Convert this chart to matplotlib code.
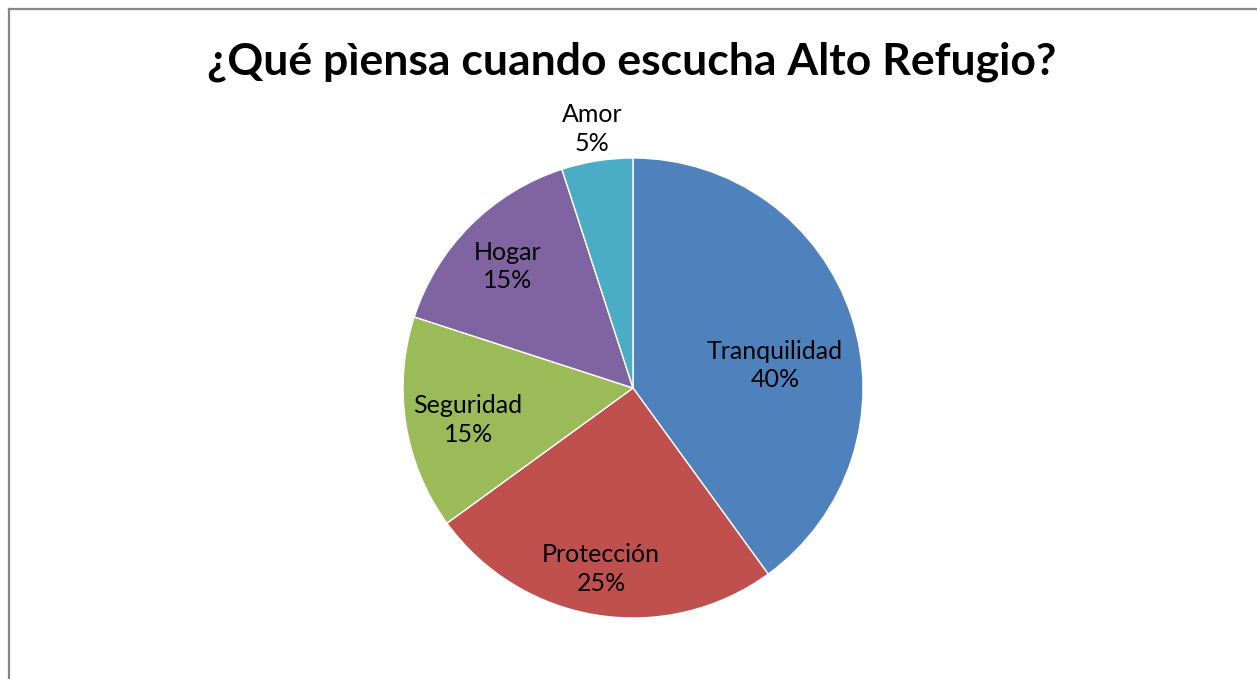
import numpy as np
import matplotlib.pyplot as plt

# Data
categories = ['Tranquilidad', 'Protección', 'Seguridad', 'Hogar', 'Amor']
values = [40, 25, 15, 15, 5]
colors = ['#4F81BD', '#C0504D', '#9BBB59', '#8064A2', '#4BACC6']
# label placement: distance from centre (radius units), angle shift from wedge middle
label_dist = [0.625, 0.80, 0.73, 0.76, 1.14]
label_shift = [-9, -1, 2, 1, 0]

plt.rcParams['font.family'] = ['Lato', 'DejaVu Sans']

W, H = 1257, 679
fig = plt.figure(figsize=(W / 100, H / 100), dpi=100)

# chart border: only left and top edges are visible
bg = fig.add_axes([8.5 / W, 0, 1 - 8.5 / W, 1 - 8.5 / H])
bg.set_xticks([])
bg.set_yticks([])
bg.patch.set_visible(False)
bg.spines[['right', 'bottom']].set_visible(False)
for side in ['left', 'top']:
    bg.spines[side].set_color('#878787')
    bg.spines[side].set_linewidth(1.6)

fig.text(632 / W, 1 - 62 / H, '¿Qué pìensa cuando escucha Alto Refugio?',
         ha='center', va='center', fontsize=32, fontweight='bold')

cx, cy, r = 633, 388, 230
ax = fig.add_axes([(cx - r) / W, (H - cy - r) / H, 2 * r / W, 2 * r / H])
wedges, _ = ax.pie(values, colors=colors, startangle=90, counterclock=False,
                   wedgeprops=dict(linewidth=1, edgecolor='white'))
ax.set_xlim(-1, 1)
ax.set_ylim(-1, 1)
ax.set_aspect('equal')

for w, cat, v, d, s in zip(wedges, categories, values, label_dist, label_shift):
    ang = np.deg2rad((w.theta1 + w.theta2) / 2 + s)
    ax.text(d * np.cos(ang), d * np.sin(ang), f'{cat}\n{v}%',
            ha='center', va='center', fontsize=18, linespacing=1.3)

fig.savefig('out.png', dpi=100)
